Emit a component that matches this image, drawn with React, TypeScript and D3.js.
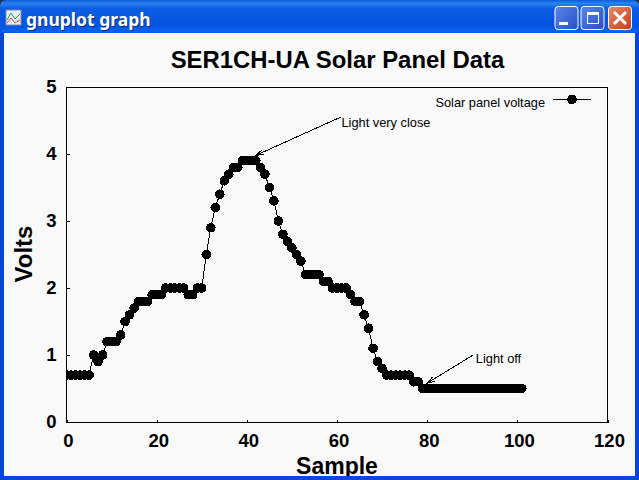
// App.tsx - gnuplot window with solar panel voltage trace
import React, { useEffect, useRef } from 'react';
import * as d3 from 'd3';

const voltage = [
  0.7, 0.7, 0.7, 0.7, 0.7, 0.7, 1.0, 0.9, 1.0, 1.2, 1.2, 1.2, 1.3, 1.5, 1.6, 1.7, 1.8, 1.8, 1.8, 1.9,
  1.9, 1.9, 2.0, 2.0, 2.0, 2.0, 2.0, 1.9, 1.9, 2.0, 2.0, 2.5, 2.9, 3.2, 3.4, 3.6, 3.7, 3.8, 3.8, 3.9,
  3.9, 3.9, 3.9, 3.8, 3.7, 3.5, 3.3, 3.0, 2.8, 2.7, 2.6, 2.5, 2.4, 2.2, 2.2, 2.2, 2.2, 2.1, 2.1, 2.0,
  2.0, 2.0, 2.0, 1.9, 1.8, 1.8, 1.6, 1.4, 1.1, 0.9, 0.8, 0.7, 0.7, 0.7, 0.7, 0.7, 0.7, 0.6, 0.6, 0.5,
  0.5, 0.5, 0.5, 0.5, 0.5, 0.5, 0.5, 0.5, 0.5, 0.5, 0.5, 0.5, 0.5, 0.5, 0.5, 0.5, 0.5, 0.5, 0.5, 0.5,
  0.5, 0.5,
];
const xTicks = [0, 20, 40, 60, 80, 100, 120];
const yTicks = [0, 1, 2, 3, 4, 5];

// label anchor, arrow tail and arrow head in data units
const annotations = [
  { label: 'Light very close', at: [61, 4.41], tail: [60.8, 4.55], head: [42, 3.98] },
  { label: 'Light off', at: [90.8, 0.88], tail: [90.2, 1.0], head: [80, 0.58] },
];

const WIDTH = 639;
const HEIGHT = 480;
const sans = '"Liberation Sans", Arial, sans-serif';

const App: React.FC = () => {
  const svgRef = useRef<SVGSVGElement>(null);

  useEffect(() => {
    const svg = d3.select(svgRef.current);
    svg.selectAll('*').remove();

    const x = d3.scaleLinear().domain([0, 120]).range([66.5, 607.5]);
    const y = d3.scaleLinear().domain([0, 5]).range([422, 87]);

    const defs = svg.append('defs');
    const bar = defs.append('linearGradient').attr('id', 'bar').attr('x1', 0).attr('x2', 0).attr('y1', 0).attr('y2', 1);
    [[0, '#0a5bd8'], [0.1, '#2a83f0'], [0.25, '#0a5ce0'], [0.75, '#0354e0'], [0.93, '#0a63ee'], [1, '#0343c8']].forEach(([o, c]) =>
      bar.append('stop').attr('offset', o as number).attr('stop-color', c as string));
    const btn = defs.append('linearGradient').attr('id', 'btn').attr('x1', 0).attr('x2', 1).attr('y1', 0).attr('y2', 1);
    btn.append('stop').attr('offset', 0).attr('stop-color', '#5b86e8');
    btn.append('stop').attr('offset', 1).attr('stop-color', '#2450c8');
    const red = defs.append('linearGradient').attr('id', 'red').attr('x1', 0).attr('x2', 1).attr('y1', 0).attr('y2', 1);
    red.append('stop').attr('offset', 0).attr('stop-color', '#e88a68');
    red.append('stop').attr('offset', 1).attr('stop-color', '#c83c18');
    // markers stop at the plot box
    defs.append('clipPath').attr('id', 'plot').append('rect')
      .attr('x', 66).attr('y', 87).attr('width', 542).attr('height', 336);

    // Window frame
    svg.append('rect').attr('width', WIDTH).attr('height', HEIGHT).attr('fill', '#2b2b2b');
    svg.append('rect').attr('width', WIDTH).attr('height', HEIGHT).attr('rx', 6).attr('fill', '#0348d8');
    svg.append('rect').attr('y', 0).attr('width', WIDTH).attr('height', 34).attr('rx', 6).attr('fill', 'url(#bar)');
    svg.append('rect').attr('x', 4).attr('y', 33).attr('width', 631).attr('height', 443).attr('fill', '#f9f9f9');

    // Title bar icon
    const icon = svg.append('g').attr('transform', 'translate(6,10)');
    icon.append('rect').attr('width', 15).attr('height', 15).attr('fill', '#e8eef8').attr('stroke', '#7a8aa8');
    icon.append('path').attr('d', 'M1 10L5 3L9 9L14 4').attr('fill', 'none').attr('stroke', '#30a040');
    icon.append('path').attr('d', 'M1 13L5 8L9 13L14 10').attr('fill', 'none').attr('stroke', '#d04050');

    svg.append('text').attr('x', 26).attr('y', 26).attr('font-family', '"Noto Sans", sans-serif').attr('font-weight', 'bold')
      .attr('font-size', 17.5).attr('fill', '#fff').style('text-shadow', '1px 1px 0 #0a2a80').text('gnuplot graph');

    // Window buttons
    [555, 581].forEach(bx =>
      svg.append('rect').attr('x', bx).attr('y', 6.5).attr('width', 23).attr('height', 23).attr('rx', 3)
        .attr('fill', 'url(#btn)').attr('stroke', '#fff'));
    svg.append('rect').attr('x', 608.5).attr('y', 6.5).attr('width', 23).attr('height', 23).attr('rx', 3)
      .attr('fill', 'url(#red)').attr('stroke', '#fff');
    svg.append('rect').attr('x', 559).attr('y', 22).attr('width', 9).attr('height', 3).attr('fill', '#fff');
    svg.append('rect').attr('x', 587.5).attr('y', 12.5).attr('width', 11).attr('height', 11).attr('fill', 'none').attr('stroke', '#fff');
    svg.append('rect').attr('x', 587).attr('y', 12).attr('width', 12).attr('height', 3).attr('fill', '#fff');
    svg.append('path').attr('d', 'M614 12L626 24M626 12L614 24').attr('stroke', '#fff').attr('stroke-width', 3);

    // Plot box
    svg.append('rect').attr('x', 66.5).attr('y', 87.5).attr('width', 541).attr('height', 335)
      .attr('fill', 'none').attr('stroke', '#000').attr('shape-rendering', 'crispEdges');

    // Axes
    const xAxis = svg.append('g').attr('transform', 'translate(0,422.5)')
      .call(d3.axisBottom(x).tickValues(xTicks).tickFormat(d3.format('d')).tickSizeInner(-3).tickSizeOuter(0).tickPadding(11));
    const yAxis = svg.append('g').attr('transform', 'translate(66.5,0)')
      .call(d3.axisLeft(y).tickValues(yTicks).tickFormat(d3.format('d')).tickSizeInner(-3).tickSizeOuter(0).tickPadding(10));
    [xAxis, yAxis].forEach(a => {
      a.select('.domain').remove();
      a.selectAll('line').attr('stroke', '#000').attr('shape-rendering', 'crispEdges');
      a.selectAll('text').attr('font-family', sans).attr('font-weight', 'bold').attr('font-size', 18.5).attr('fill', '#000');
    });
    xAxis.selectAll('text').attr('dx', 1.5);

    // Axis labels and title
    svg.append('text').attr('x', 337.5).attr('y', 68).attr('text-anchor', 'middle').attr('font-family', sans)
      .attr('font-weight', 'bold').attr('font-size', 23.9).text('SER1CH-UA Solar Panel Data');
    svg.append('text').attr('x', 337).attr('y', 474).attr('text-anchor', 'middle').attr('font-family', sans)
      .attr('font-weight', 'bold').attr('font-size', 23).text('Sample');
    svg.append('text').attr('transform', 'translate(32,254) rotate(-90)').attr('text-anchor', 'middle').attr('font-family', sans)
      .attr('font-weight', 'bold').attr('font-size', 24).text('Volts');
    // the frame cuts off the bottom of the axis label
    svg.append('rect').attr('x', 0).attr('y', 476).attr('width', WIDTH).attr('height', 4).attr('fill', '#0348d8');

    // Data line and markers
    const line = d3.line<number>().x((_, i) => x(i)).y(d => y(d));
    const plot = svg.append('g').attr('clip-path', 'url(#plot)').attr('shape-rendering', 'crispEdges');
    plot.append('path').attr('d', line(voltage) || '').attr('fill', 'none').attr('stroke', '#000');
    plot.selectAll('circle').data(voltage).enter().append('circle')
      .attr('cx', (_, i) => x(i)).attr('cy', d => y(d)).attr('r', 4.8).attr('fill', '#000');

    // Annotations
    annotations.forEach(a => {
      const [tx, ty] = [x(a.tail[0]), y(a.tail[1])];
      const [hx, hy] = [x(a.head[0]), y(a.head[1])];
      const angle = Math.atan2(ty - hy, tx - hx);
      const wing = (s: number) => `${hx + 8 * Math.cos(angle + s * 0.3)},${hy + 8 * Math.sin(angle + s * 0.3)}`;
      svg.append('path').attr('d', `M${tx},${ty}L${hx},${hy}M${wing(1)}L${hx},${hy}L${wing(-1)}`)
        .attr('fill', 'none').attr('stroke', '#000').attr('shape-rendering', 'crispEdges');
      svg.append('text').attr('x', x(a.at[0])).attr('y', y(a.at[1])).attr('font-family', sans).attr('font-size', 12.8).text(a.label);
    });

    // Legend
    svg.append('text').attr('x', 545).attr('y', 107).attr('text-anchor', 'end').attr('font-family', sans)
      .attr('font-size', 12.8).text('Solar panel voltage');
    svg.append('line').attr('x1', 553).attr('x2', 591).attr('y1', 99.5).attr('y2', 99.5).attr('stroke', '#000').attr('shape-rendering', 'crispEdges');
    svg.append('circle').attr('cx', 572).attr('cy', 99.5).attr('r', 4.8).attr('fill', '#000').attr('shape-rendering', 'crispEdges');
  }, []);

  return (
    <svg ref={svgRef} width={WIDTH} height={HEIGHT}
      style={{ position: 'fixed', left: 0, top: 0, display: 'block' }}></svg>
  );
};

export default App;
